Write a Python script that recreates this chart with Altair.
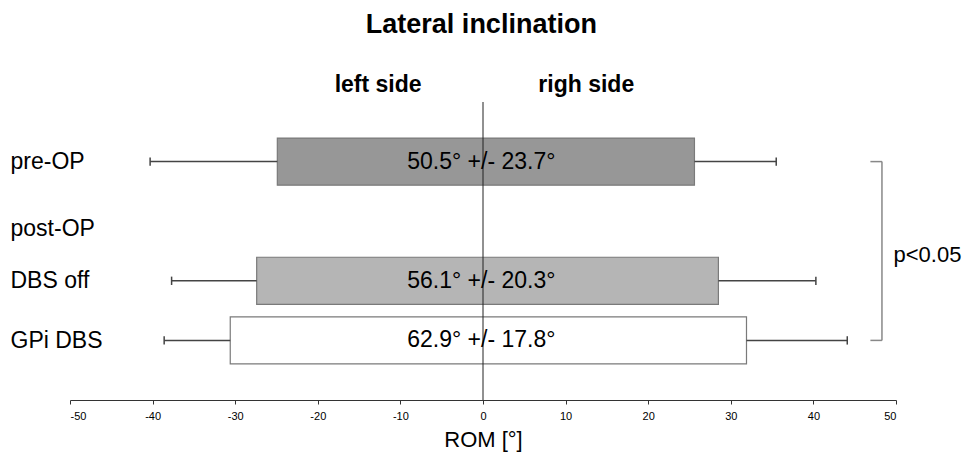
import altair as alt
import pandas as pd

# ---- data ----
groups = ["pre-OP", "DBS off", "GPi DBS"]
rows = [0, 2, 3]
left_mean = [-24.9, -27.4, -30.6]
right_mean = [25.6, 28.5, 31.9]
left_err = [-40.3, -37.7, -38.6]
right_err = [35.5, 40.3, 44.1]
value_labels = ["50.5° +/- 23.7°", "56.1° +/- 20.3°", "62.9° +/- 17.8°"]
fills = ["#979797", "#b5b5b5", "#ffffff"]

row_names = ["pre-OP", "post-OP", "DBS off", "GPi DBS"]
row_pos = [0, 1.12, 2, 3]

title_text = ["Lateral inclination"]
title_x = [-0.2]
title_y = [-2.164]

side_labels = ["left side", "righ side"]
side_x = [-12.7, 12.5]
side_y = [-1.28, -1.28]

bracket_x = 48.3
bracket_x0 = 46.9
bracket_rows = [0, 3]
p_text = "p<0.05"
p_x = 49.7
p_y = 1.56

FONT = "Liberation Sans"

bars = pd.DataFrame({
    "group": groups, "row": rows,
    "lm": left_mean, "rm": right_mean,
    "le": left_err, "re": right_err,
    "label": value_labels,
})

caps = pd.DataFrame({
    "row": rows + rows,
    "x": left_err + right_err,
})
whiskers = pd.DataFrame({
    "row": rows + rows,
    "x": left_mean + right_mean,
    "x2": left_err + right_err,
})

xscale = alt.Scale(domain=[-50, 50], nice=False, zero=False)
yscale = alt.Scale(domain=[-1, 4], reverse=True, nice=False, zero=False)

xaxis = alt.Axis(
    values=list(range(-50, 51, 10)), grid=False, tickSize=4,
    labelExpr="'' + datum.value",
    domainColor="#333333", tickColor="#333333", labelFontSize=11,
    labelFont=FONT, labelColor="#000000", title="ROM [°]",
    titleFont=FONT, titleFontSize=22, titleFontWeight="normal",
    titleColor="#000000", titlePadding=8, labelPadding=6,
)

label_expr = " : ".join(
    [f"abs(datum.value - {p}) < 0.01 ? '{n}'" for p, n in zip(row_pos, row_names)]
) + " : ''"
yaxis = alt.Axis(
    values=row_pos, labelExpr=label_expr, ticks=False, domain=False,
    grid=False, labelAlign="left", labelPadding=60, labelFontSize=23,
    labelFont=FONT, labelColor="#000000", labelBaseline="middle", title=None,
)

base = alt.Chart(bars)

bar_layer = base.transform_calculate(
    y0="datum.row - 0.395", y1="datum.row + 0.395"
).mark_rect(stroke="#7a7a7a", strokeWidth=1.2).encode(
    x=alt.X("lm:Q", scale=xscale, axis=xaxis),
    x2="rm:Q",
    y=alt.Y("y0:Q", scale=yscale, axis=yaxis),
    y2="y1:Q",
    fill=alt.Fill("group:N", scale=alt.Scale(domain=groups, range=fills), legend=None),
)

whisker_layer = alt.Chart(whiskers).mark_rule(color="#444444", strokeWidth=1.5).encode(
    x=alt.X("x:Q", scale=xscale), x2="x2:Q",
    y=alt.Y("row:Q", scale=yscale),
)

cap_layer = alt.Chart(caps).transform_calculate(
    y0="datum.row - 0.07", y1="datum.row + 0.07"
).mark_rule(color="#444444", strokeWidth=1.5).encode(
    x=alt.X("x:Q", scale=xscale),
    y=alt.Y("y0:Q", scale=yscale), y2="y1:Q",
)

zero_layer = alt.Chart(pd.DataFrame({"x": [0], "y0": [-1], "y1": [4]})).mark_rule(
    color="#222222", strokeWidth=1
).encode(
    x=alt.X("x:Q", scale=xscale),
    y=alt.Y("y0:Q", scale=yscale), y2="y1:Q",
)

text_layer = base.transform_calculate(xc="-0.2").mark_text(
    fontSize=23, font=FONT, color="#000000", baseline="middle"
).encode(
    x=alt.X("xc:Q", scale=xscale),
    y=alt.Y("row:Q", scale=yscale),
    text="label:N",
)

title_layer = alt.Chart(pd.DataFrame({"t": title_text, "x": title_x, "y": title_y})).mark_text(
    fontSize=27, font=FONT, fontWeight="bold", color="#000000", baseline="alphabetic"
).encode(
    x=alt.X("x:Q", scale=xscale),
    y=alt.Y("y:Q", scale=yscale),
    text="t:N",
)

side_layer = alt.Chart(pd.DataFrame({"t": side_labels, "x": side_x, "y": side_y})).mark_text(
    fontSize=23, font=FONT, fontWeight="bold", color="#000000", baseline="middle"
).encode(
    x=alt.X("x:Q", scale=xscale),
    y=alt.Y("y:Q", scale=yscale),
    text="t:N",
)

bracket_v = alt.Chart(pd.DataFrame({"x": [bracket_x], "y0": [bracket_rows[0]], "y1": [bracket_rows[1]]})).mark_rule(
    color="#888888", strokeWidth=1.5
).encode(
    x=alt.X("x:Q", scale=xscale),
    y=alt.Y("y0:Q", scale=yscale), y2="y1:Q",
)
bracket_h = alt.Chart(pd.DataFrame({"x0": [bracket_x0] * 2, "x1": [bracket_x] * 2, "y": bracket_rows})).mark_rule(
    color="#888888", strokeWidth=1.5
).encode(
    x=alt.X("x0:Q", scale=xscale), x2="x1:Q",
    y=alt.Y("y:Q", scale=yscale),
)
p_layer = alt.Chart(pd.DataFrame({"t": [p_text], "x": [p_x], "y": [p_y]})).mark_text(
    fontSize=22, font=FONT, color="#000000", align="left", baseline="middle"
).encode(
    x=alt.X("x:Q", scale=xscale),
    y=alt.Y("y:Q", scale=yscale),
    text="t:N",
)

chart = alt.layer(
    bar_layer, whisker_layer, cap_layer, zero_layer, text_layer,
    title_layer, side_layer, bracket_v, bracket_h, p_layer,
).properties(
    width=826, height=298,
    background="#ffffff",
    autosize=alt.AutoSizeParams(type="none"),
    padding={"left": 62, "top": 94, "right": 66, "bottom": 53},
).configure_view(strokeWidth=0, stroke="transparent")

chart.save("out.html", embed_options={"renderer": "svg", "actions": False})
